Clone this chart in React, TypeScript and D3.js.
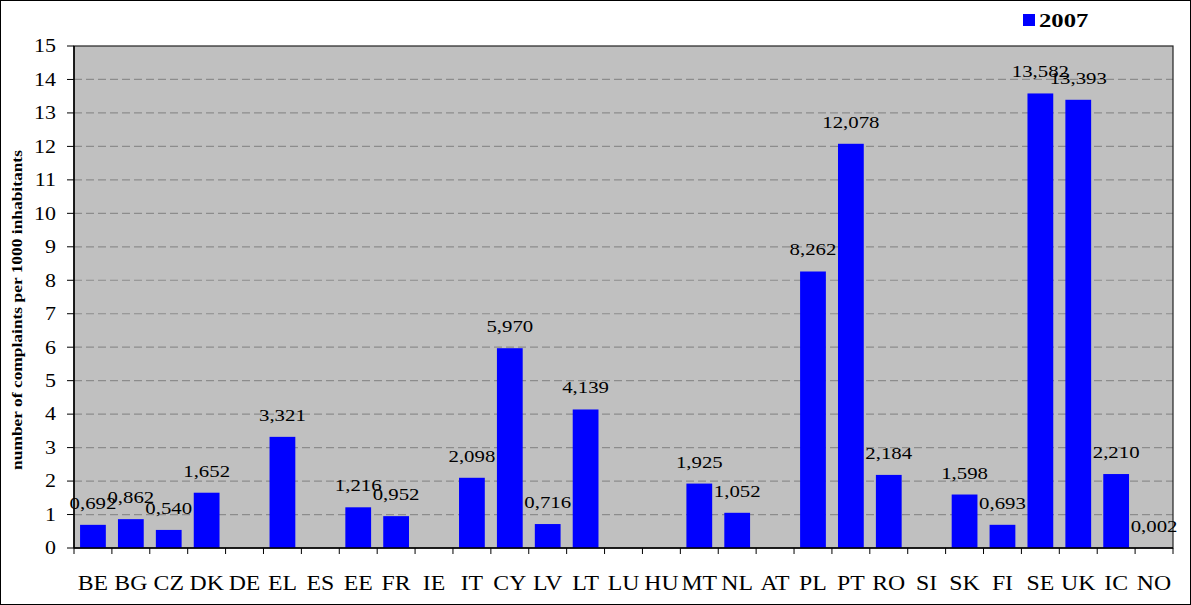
import React, { useEffect, useRef } from "react";
import * as d3 from "d3";

const countries = ["BE", "BG", "CZ", "DK", "DE", "EL", "ES", "EE", "FR", "IE", "IT", "CY", "LV", "LT", "LU", "HU", "MT", "NL", "AT", "PL", "PT", "RO", "SI", "SK", "FI", "SE", "UK", "IC", "NO"];
const values2007: (number | null)[] = [0.692, 0.862, 0.54, 1.652, null, 3.321, null, 1.216, 0.952, null, 2.098, 5.97, 0.716, 4.139, null, null, 1.925, 1.052, null, 8.262, 12.078, 2.184, null, 1.598, 0.693, 13.582, 13.393, 2.21, 0.002];
const yTicks = d3.range(0, 16);
const seriesName = "2007";
const yTitle = "number of complaints per 1000 inhabitants";

const W = 1191;
const H = 605;
const margin = { top: 46, right: 18, bottom: 57, left: 74 };
const serif = "Liberation Serif, DejaVu Serif, serif";
const fmt = (v: number) => v.toFixed(3).replace(".", ",");

// the original text looks horizontally stretched, widen each text a bit
function stretch(sel: any, k: number) {
  sel.each(function (this: SVGTextElement) {
    const len = this.getComputedTextLength();
    d3.select(this).attr("textLength", len * k).attr("lengthAdjust", "spacingAndGlyphs");
  });
}

export default function App() {
  const ref = useRef<SVGSVGElement>(null);

  useEffect(() => {
    const svg = d3.select(ref.current);
    svg.selectAll("*").remove();
    const iw = W - margin.left - margin.right;
    const ih = H - margin.top - margin.bottom;

    // outer frame
    svg.append("rect").attr("x", 0.5).attr("y", 0.5).attr("width", W - 1).attr("height", H - 1)
      .attr("fill", "#fff").attr("stroke", "#000");

    const x = d3.scaleBand().domain(countries).range([0, iw]).paddingInner(0.32).paddingOuter(0.16);
    const y = d3.scaleLinear().domain([0, 15]).range([ih, 0]);
    const step = iw / countries.length;

    const g = svg.append("g").attr("transform", `translate(${margin.left},${margin.top})`)
      .attr("font-family", serif);

    g.append("rect").attr("width", iw).attr("height", ih).attr("fill", "#c0c0c0");

    // dashed grid
    g.selectAll("line.grid").data(yTicks.filter((t) => t > 0 && t < 15)).enter().append("line")
      .attr("x1", 0).attr("x2", iw)
      .attr("y1", (d) => y(d)).attr("y2", (d) => y(d))
      .attr("stroke", "#8c8c8c").attr("stroke-width", 1.2).attr("stroke-dasharray", "8,4");

    g.append("rect").attr("width", iw).attr("height", ih).attr("fill", "none")
      .attr("stroke", "#222").attr("stroke-width", 1.2);

    // bars
    const data = countries.map((c, i) => ({ c, v: values2007[i] })).filter((d) => d.v !== null) as { c: string; v: number }[];
    g.selectAll("rect.bar").data(data).enter().append("rect")
      .attr("x", (d) => x(d.c)!)
      .attr("width", x.bandwidth())
      .attr("y", (d) => y(d.v))
      .attr("height", (d) => ih - y(d.v))
      .attr("fill", "#0000ff");

    // value labels
    const vals = g.selectAll("text.val").data(data).enter().append("text")
      .attr("x", (d) => x(d.c)! + x.bandwidth() / 2)
      .attr("y", (d) => y(d.v) - 16)
      .attr("text-anchor", "middle")
      .attr("font-size", 16)
      .attr("fill", "#000")
      .text((d) => fmt(d.v));
    stretch(vals, 1.3);

    // y axis
    g.append("line").attr("x1", 0).attr("x2", 0).attr("y1", 0).attr("y2", ih).attr("stroke", "#000").attr("stroke-width", 1.5);
    g.selectAll("line.ytick").data(yTicks).enter().append("line")
      .attr("x1", -7).attr("x2", 0).attr("y1", (d) => y(d)).attr("y2", (d) => y(d)).attr("stroke", "#000");
    const yl = g.selectAll("text.ytick").data(yTicks).enter().append("text")
      .attr("x", -18).attr("y", (d) => y(d)).attr("dy", "0.35em")
      .attr("text-anchor", "end")
      .attr("font-size", 18)
      .text((d) => d);
    stretch(yl, 1.22);

    // x axis
    g.append("line").attr("x1", 0).attr("x2", iw).attr("y1", ih).attr("y2", ih).attr("stroke", "#000").attr("stroke-width", 1.5);
    g.selectAll("line.xtick").data(d3.range(countries.length + 1)).enter().append("line")
      .attr("x1", (d) => d * step).attr("x2", (d) => d * step)
      .attr("y1", ih).attr("y2", ih + 6).attr("stroke", "#000");
    const xl = g.selectAll("text.xlab").data(countries).enter().append("text")
      .attr("x", (d) => x(d)! + x.bandwidth() / 2)
      .attr("y", ih + 42)
      .attr("text-anchor", "middle")
      .attr("font-size", 22)
      .text((d) => d);
    stretch(xl, 1.08);

    // y title
    const yt = svg.append("text")
      .attr("transform", `translate(22,310) rotate(-90)`)
      .attr("text-anchor", "middle")
      .attr("font-family", serif).attr("font-size", 14.5).attr("font-weight", "bold")
      .text(yTitle);
    stretch(yt, 1.2);

    // legend
    svg.append("rect").attr("x", 1023).attr("y", 14).attr("width", 12).attr("height", 12).attr("fill", "#0000ff");
    const lg = svg.append("text").attr("x", 1039).attr("y", 27)
      .attr("font-family", serif).attr("font-size", 19).attr("font-weight", "bold")
      .text(seriesName);
    stretch(lg, 1.3);
  }, []);

  return <svg ref={ref} width={W} height={H} style={{ position: "absolute", left: 0, top: 0 }} />;
}
